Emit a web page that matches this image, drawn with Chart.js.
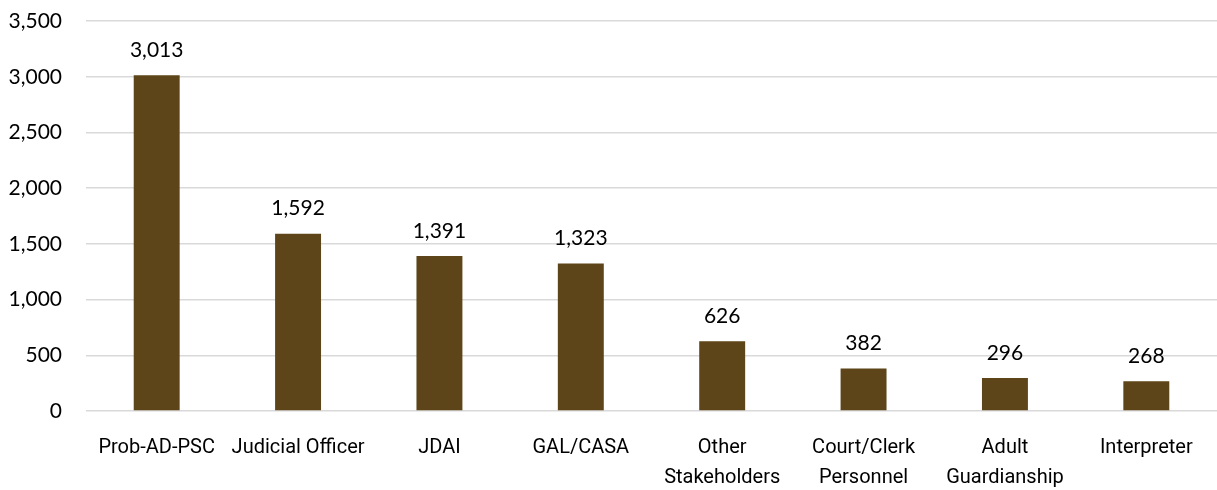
<!DOCTYPE html>
<html>
<head>
<meta charset="utf-8">
<script src="https://cdn.jsdelivr.net/npm/chart.js@4"></script>
<style>
  html, body { margin: 0; padding: 0; background: #fff; overflow: hidden; }
  #wrap { width: 1217px; height: 494px; margin-top: -4px; }
</style>
</head>
<body>
<div id="wrap"><canvas id="barChart"></canvas></div>
<script>
const categories = [
  "Prob-AD-PSC", "Judicial Officer", "JDAI", "GAL/CASA",
  ["Other", "Stakeholders"], ["Court/Clerk", "Personnel"], ["Adult", "Guardianship"], "Interpreter"
];
const counts = [3013, 1592, 1391, 1323, 626, 382, 296, 268];
const yTicks = [0, 500, 1000, 1500, 2000, 2500, 3000, 3500];

const barColor = "#5E4519";
const numFont = "Lato, 'Open Sans', sans-serif";
const labelFont = "'Liberation Sans Narrow', 'Arial Narrow', Roboto, sans-serif";

// draws the value above each bar
const valueLabels = {
  id: "valueLabels",
  afterDatasetsDraw(chart) {
    const ctx = chart.ctx;
    const meta = chart.getDatasetMeta(0);
    ctx.save();
    ctx.font = "21px " + numFont;
    ctx.fillStyle = "#000";
    ctx.textAlign = "center";
    ctx.textBaseline = "middle";
    meta.data.forEach((bar, i) => {
      ctx.fillText(counts[i].toLocaleString("en-US"), bar.x, bar.y - 25);
    });
    ctx.restore();
  }
};

const ctx = document.getElementById("barChart").getContext("2d");
new Chart(ctx, {
  type: "bar",
  data: {
    labels: categories,
    datasets: [{
      data: counts,
      backgroundColor: barColor,
      borderWidth: 0,
      barPercentage: 0.65,
      categoryPercentage: 0.5
    }]
  },
  options: {
    responsive: true,
    maintainAspectRatio: false,
    animation: false,
    layout: { padding: { top: 8, right: 0, left: 0, bottom: 0 } },
    plugins: {
      legend: { display: false },
      tooltip: { enabled: false }
    },
    scales: {
      x: {
        afterFit(axis) { axis.height = 79; },
        grid: { display: false },
        border: { display: false },
        ticks: {
          color: "#000",
          font: { family: labelFont, size: 20, lineHeight: 1.5 },
          maxRotation: 0,
          autoSkip: false,
          padding: 14
        }
      },
      y: {
        min: 0,
        max: 3500,
        afterBuildTicks(axis) { axis.ticks = yTicks.map(v => ({ value: v })); },
        afterFit(axis) { axis.width = 86; },
        grid: { color: "#D9D9D9", lineWidth: 1.5, drawTicks: false },
        border: { display: false },
        ticks: {
          color: "#000",
          font: { family: numFont, size: 21, lineHeight: 0.1 },
          padding: 24,
          callback: v => v.toLocaleString("en-US")
        }
      }
    }
  },
  plugins: [valueLabels]
});
</script>
</body>
</html>
